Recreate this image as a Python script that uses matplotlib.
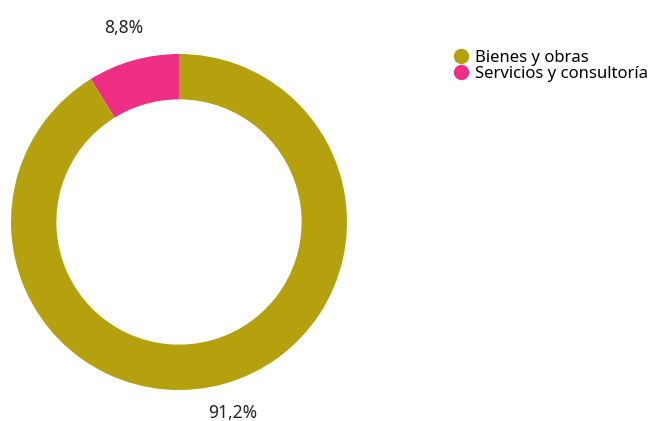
import matplotlib.pyplot as plt
from matplotlib.lines import Line2D

plt.rcParams['font.family'] = ['Noto Sans', 'DejaVu Sans']

categories = ["Servicios y consultoría", "Bienes y obras"]
values = [8.8, 91.2]
colors = ["#EE2D84", "#B5A00E"]
legend_order = ["Bienes y obras", "Servicios y consultoría"]

fig = plt.figure(figsize=(6.54, 4.21), dpi=100)
ax = fig.add_axes([11 / 654, 31 / 421, 336 / 654, 336 / 421])

wedges, texts, autotexts = ax.pie(
    values, colors=colors, startangle=90, counterclock=True,
    radius=1, wedgeprops=dict(width=0.27, edgecolor="none"),
    autopct=lambda p: f"{p:.1f}%".replace(".", ","),
    pctdistance=1.2, textprops=dict(fontsize=12.5, color="#222222"))
# pull the bottom label a bit closer so it stays inside the figure
x, y = autotexts[1].get_position()
autotexts[1].set_position((x * 1.18 / 1.2, y * 1.18 / 1.2))
ax.set_xlim(-1, 1)
ax.set_ylim(-1, 1)
ax.set_aspect("equal")

handles = []
for name in legend_order:
    c = colors[categories.index(name)]
    handles.append(Line2D([], [], marker="o", linestyle="none", markersize=10,
                          markerfacecolor=c, markeredgecolor=c, label=name))
fig.legend(handles=handles, loc="upper left", bbox_to_anchor=(453 / 654, 1 - 50 / 421),
           frameon=False, fontsize=12, handletextpad=0.35, labelspacing=0.0,
           borderaxespad=0, borderpad=0, handlelength=1.0)

fig.savefig("out.png", dpi=100)
